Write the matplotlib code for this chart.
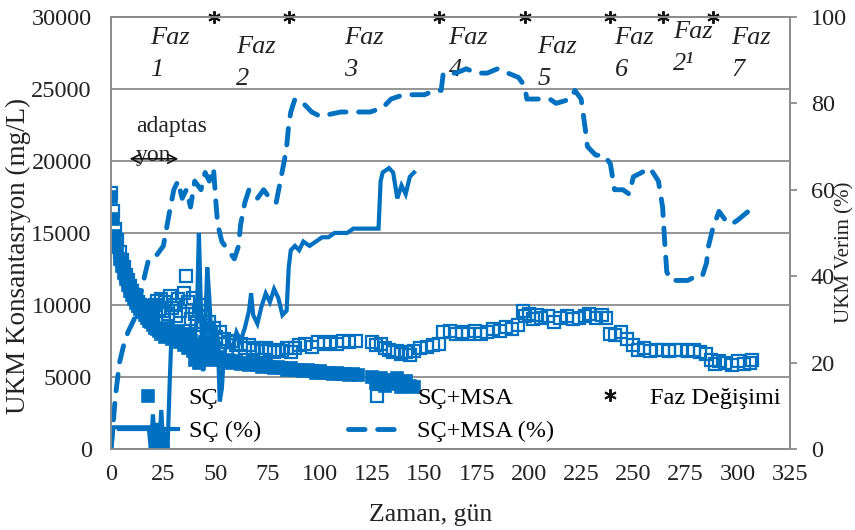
import matplotlib.pyplot as plt

plt.rcParams['font.family'] = ['Liberation Serif', 'DejaVu Serif']

BLUE = '#0070C0'
GRID = '#8C8C8C'

# SÇ reactor, suspended solids (mg/L)
sc_day = [0, 1, 2, 3, 4, 5, 6, 7, 8, 9, 10, 11, 12, 13, 14, 15, 16, 17, 18, 19,
          20, 21, 22, 23, 24, 25, 26, 27, 28, 29, 30, 31, 32, 33, 34, 35, 36, 37,
          38, 39, 40, 41, 42, 43, 44, 45, 46, 47, 48, 49, 50, 52, 54, 56, 58, 60,
          62, 64, 66, 68, 70, 72, 74, 76, 78, 80, 82, 84, 86, 88, 90, 92, 94, 96,
          98, 100, 102, 104, 106, 108, 110, 112, 114, 116, 118,
          125, 127, 129, 131, 133, 135, 137, 139, 141, 143, 145]
sc_ukm = [17500, 16000, 14800, 14000, 13200, 12700, 12200, 11800, 11400, 11000,
          10700, 10400, 10100, 9900, 9700, 9500, 9300, 9100, 8900, 8800,
          8600, 8400, 8300, 8200, 8000, 8200, 7800, 8400, 8000, 7600,
          7800, 7600, 8200, 7400, 7800, 7200, 8000, 7000, 7500, 6800,
          6200, 7200, 6000, 7000, 6600, 7400, 6400, 6800, 6200, 7000,
          6400, 6300, 6100, 6200, 6000, 6100, 5900, 6000, 5800, 5900,
          5800, 5700, 5800, 5700, 5600, 5700, 5600, 5500, 5600, 5500,
          5500, 5400, 5500, 5400, 5300, 5400, 5300, 5300, 5200, 5300,
          5200, 5200, 5100, 5200, 5100,
          5000, 4600, 4900, 4400, 4800, 4500, 4900, 4300, 4700, 4400, 4300]

# SÇ+MSA reactor, suspended solids (mg/L)
msa_day = [0, 1, 2, 3, 4, 5, 6, 7, 8, 9, 10, 11, 12, 13, 14, 15, 16, 17, 18, 19,
           20, 21, 22, 23, 24, 25, 26, 27, 28, 29, 30, 31, 32, 33, 35, 36, 37, 38,
           39, 40, 41, 42, 43, 44, 45, 46, 47, 48, 49, 50, 52, 54, 56, 58, 60, 62,
           64, 66, 68, 70, 72, 74, 76, 78, 80, 82, 84, 86, 88, 90, 93, 96, 99, 102,
           105, 108, 111, 114, 117,
           125, 127, 129, 131, 133, 135, 137, 139, 141, 143, 145, 148, 151, 154,
           157, 159, 162, 165, 168, 171, 174, 177, 180, 183, 186, 189, 192, 195,
           197, 198, 200, 202, 204, 206, 209, 212, 215, 218, 221, 224, 227, 229,
           232, 235, 237, 239, 241, 244, 247, 250, 252, 255, 258, 261, 264, 267,
           270, 273, 276, 279, 282, 285, 287, 289, 291, 294, 297, 300, 303, 306,
           307]
msa_ukm = [17800, 16500, 15300, 14500, 13700, 13100, 12600, 12100, 11700, 11300,
           11000, 10700, 10400, 10200, 10000, 9800, 9600, 9800, 9500, 9900,
           9400, 10000, 10300, 9700, 10400, 9600, 10200, 9400, 10600, 9800,
           10000, 9200, 10400, 9600, 10800, 12000, 10200, 9000,
           10500, 9400, 8800, 9600, 10000, 8600, 9200, 8400, 8800, 8000, 8400, 7800,
           8100, 7600, 7400, 7500, 7200, 7300,
           7000, 7200, 6900, 7000, 6800, 7000, 6900, 6700, 6900, 6800, 7000, 6700,
           7000, 7200, 7300, 7100, 7400, 7300,
           7400, 7300, 7500, 7400, 7500,
           7400, 7200, 7300, 7000, 6900, 6700, 6800, 6600, 6700, 6500, 6800, 7000,
           7100, 7200,
           7300, 8100, 8200, 8000, 8100, 8000, 8200, 8000, 8100, 8300, 8200, 8500,
           8300, 8600,
           9600, 9200, 9400, 9000, 9300, 9100, 9200, 8800, 9100, 9200, 9000, 9100,
           9200, 9400,
           9100, 9300, 9100, 8000, 7900, 8100, 7600, 7200, 6900, 7000, 6800, 6900,
           6900, 6800,
           6900, 6900, 6800, 6900, 6700, 6600, 6200, 5900, 6100, 6000, 5800, 6100,
           5900, 6000,
           6200]

# removal efficiency, SÇ (%)
sc_eff_day = [0, 1, 18, 19, 20, 21, 22, 23, 24, 25, 26, 27, 28, 29, 30, 32, 34,
              36, 38, 40, 41, 42, 43, 44, 45, 46, 47, 48, 49, 50, 51, 52, 53, 54,
              56, 58, 60, 62, 64, 66, 67, 68, 70, 72, 74, 76, 78, 80, 82, 84, 85,
              86, 88, 90, 92, 95, 98, 101, 104, 107, 110, 113, 116, 122, 128, 129,
              130, 133, 135, 137, 139, 141, 143, 145]
sc_eff = [0, 5, 5, 0, 8, 0, 6, 0, 9, 0, 4, 0, 15, 28, 27, 25, 27,
          24, 28, 26, 30, 50, 32, 18, 28, 42, 35, 24, 28, 22, 26, 11, 14, 22,
          25, 23, 27, 25, 28, 32, 36, 31, 29, 33, 36, 34, 37, 35, 31, 32, 42,
          46, 47, 46, 48, 47, 48, 49, 49, 50, 50, 50, 51, 51, 51, 62,
          64, 65, 64, 58, 61, 59, 63, 64]

# removal efficiency, SÇ+MSA (%)
msa_eff_day = [0, 1, 2, 3, 4, 6, 8, 11, 13, 16, 18, 22, 25, 28, 30, 32, 34, 36,
               38, 40, 43, 45, 47, 49, 50, 51, 53, 56, 59, 61, 62, 64, 66, 70,
               73, 76, 79, 81, 83, 84, 85, 86, 88, 92, 96, 100, 110, 118, 124,
               130, 134, 140, 145, 150, 155, 158, 159, 165, 170, 175, 180, 185,
               190, 195, 198, 199, 205, 210, 213, 220, 222, 225, 227, 228, 232,
               236, 239, 241, 245, 248, 250, 254, 258, 262, 264, 265, 266, 268,
               272, 276, 280, 283, 285, 286, 288, 291, 294, 297, 300, 305]
msa_eff = [0, 6, 12, 16, 20, 24, 27, 30, 33, 40, 44, 45, 47, 55, 60, 62, 58, 60,
           56, 62, 60, 64, 62, 65, 58, 52, 48, 46, 44, 47, 52, 57, 60, 58,
           60, 58, 57, 62, 67, 70, 75, 78, 81, 80, 78, 77, 78, 78, 78,
           79, 81, 82, 82, 82, 83, 83, 87, 87, 88, 87, 87, 88,
           87, 86, 84, 81, 81, 81, 80, 81, 83, 81, 74, 70, 68,
           68, 66, 60, 60, 59, 63, 64, 65, 62, 56, 48, 41, 39,
           39, 39, 40, 40, 43, 47, 51, 55, 53, 52, 53, 55]

# phase changes
faz_day = [49, 85, 157, 198, 239, 264, 288]
faz_names = ['Faz\n1', 'Faz\n2', 'Faz\n3', 'Faz\n4', 'Faz\n5', 'Faz\n6',
             'Faz\n2\u00b9', 'Faz\n7']
faz_name_x = [18.5, 60, 111.5, 161.5, 204, 241, 269, 297]
faz_name_y = [29300, 28700, 29300, 29300, 28700, 29300, 29700, 29300]

fig = plt.figure(figsize=(8.55, 5.3), dpi=100)
ax = fig.add_axes([0.130, 0.153, 0.794, 0.815])
ax2 = ax.twinx()

ax.set_xlim(0, 325)
ax.set_ylim(0, 30000)
ax.set_xticks(range(0, 326, 25))
ax.set_yticks(range(0, 30001, 5000))
ax2.set_ylim(0, 100)
ax2.set_yticks(range(0, 101, 20))

ax.grid(axis='y', color=GRID, lw=1.3)
ax.set_axisbelow(True)
for a in (ax, ax2):
    for s in a.spines.values():
        s.set_color(GRID)
        s.set_linewidth(1.3)
ax.tick_params(axis='y', length=0, labelsize=17.5, pad=14, colors='#222222')
ax.tick_params(axis='x', length=0, labelsize=17.5, pad=11, colors='#222222')
ax2.tick_params(axis='y', length=5, width=1.3, color=GRID, labelsize=17.5,
                pad=10, labelcolor='#222222')

sc_pts, = ax.plot(sc_day, sc_ukm, 's', color=BLUE, ms=8, mec=BLUE, mew=1.2)
msa_pts, = ax.plot(msa_day, msa_ukm, 's', mfc='none', mec=BLUE, ms=8.5, mew=1.6)
faz_pts, = ax.plot(faz_day, [30000] * len(faz_day), ls='none', marker=(6, 2, 0),
                   color='#111111', ms=9, mew=1.4, clip_on=False, zorder=5)

sc_line, = ax2.plot(sc_eff_day, sc_eff, color=BLUE, lw=3, solid_joinstyle='miter')
msa_line, = ax2.plot(msa_eff_day, msa_eff, color=BLUE, lw=3.5, ls=(0, (3.4, 2.6)),
                     dash_capstyle='round')

for x, y, t in zip(faz_name_x, faz_name_y, faz_names):
    ax.text(x, y, t, style='italic', fontsize=19, ha='left', va='top',
            linespacing=1.6, color='#222222')

ax.text(12, 23100, 'adaptas\nyon', fontsize=17, ha='left', va='top',
        linespacing=1.45, color='#222222')
ax.annotate('', xy=(7.5, 20150), xytext=(33.5, 20150),
            arrowprops=dict(arrowstyle='<->', color='#111111', lw=1.2,
                            mutation_scale=16))

ax.set_xlabel('Zaman, gün', fontsize=18.5, color='#222222')
ax.xaxis.set_label_coords(0.47, -0.128)
ax.set_ylabel('UKM Konsantasryon (mg/L)', fontsize=19.5, color='#222222')
ax.yaxis.set_label_coords(-0.118, 0.447)
ax2.set_ylabel('UKM Verim (%)', fontsize=15, color='#222222')
ax2.yaxis.set_label_coords(1.066, 0.456)

leg_kw = dict(loc='center left', frameon=False, fontsize=17.5, handlelength=2.4,
              handletextpad=0.45, labelspacing=0.45, borderpad=0,
              borderaxespad=0, numpoints=1)
leg1 = ax2.legend([sc_pts, sc_line], ['SÇ', 'SÇ (%)'],
                  bbox_to_anchor=(0.012, 0.079), **leg_kw)
ax2.add_artist(leg1)
leg2 = ax2.legend([msa_pts, msa_line], ['SÇ+MSA', 'SÇ+MSA (%)'],
                  bbox_to_anchor=(0.349, 0.079), **leg_kw)
ax2.add_artist(leg2)
ax2.legend([faz_pts], ['Faz Değişimi'], bbox_to_anchor=(0.692, 0.118), **leg_kw)

fig.savefig('out.png', dpi=100)
plt.close(fig)
